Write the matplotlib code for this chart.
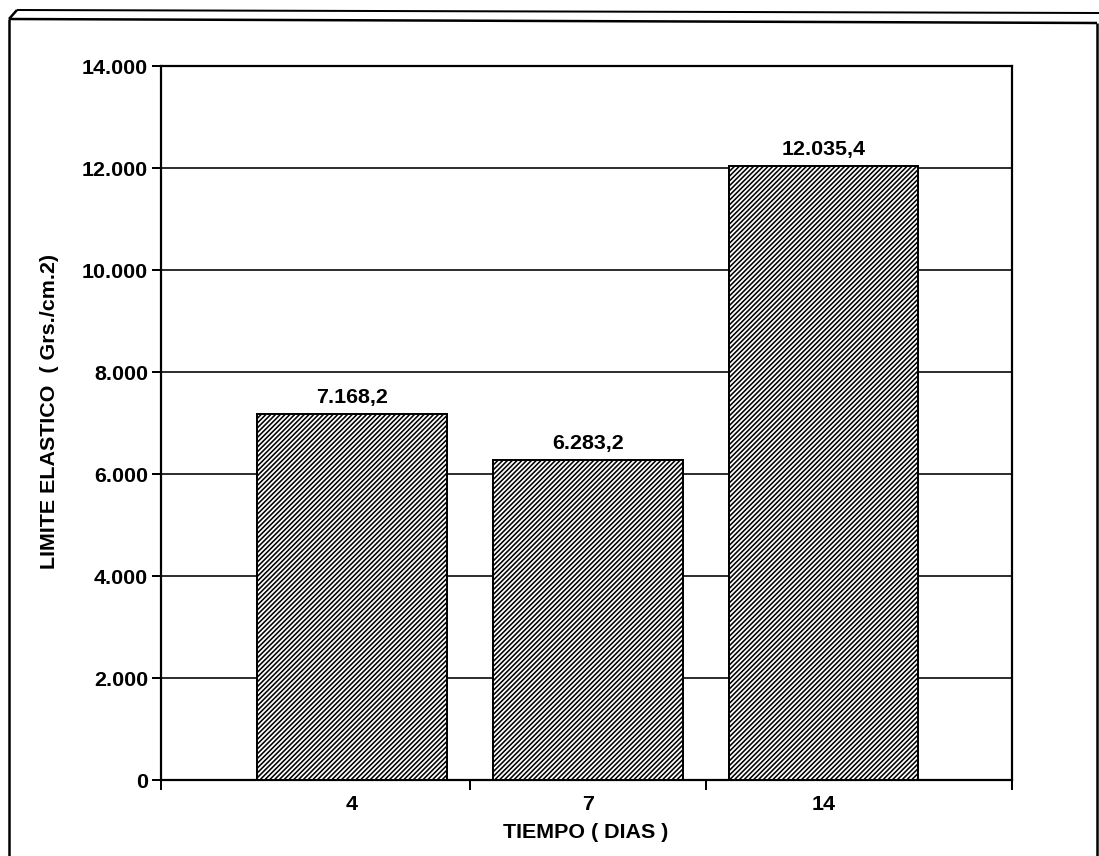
import matplotlib.pyplot as plt
from matplotlib.lines import Line2D
from matplotlib.ticker import FixedLocator, FuncFormatter

# Limite elastico vs tiempo de curado
dias = ["4", "7", "14"]
limite = [7168.2, 6283.2, 12035.4]
y_ticks = [0, 2000, 4000, 6000, 8000, 10000, 12000, 14000]

DPI = 115
W, H = 1099, 856
plt.rcParams['font.family'] = ['Liberation Sans', 'DejaVu Sans']
plt.rcParams['hatch.linewidth'] = 1.0
plt.rcParams['hatch.color'] = '#2a2a2a'


def pt(px):
    # pixel size -> points at the chosen dpi
    return px * 72.0 / DPI


def miles(v, pos=None):
    return f"{int(round(v)):,}".replace(",", ".")


def decimal_es(v):
    s = f"{v:,.1f}"
    return s.replace(",", "X").replace(".", ",").replace("X", ".")


fig = plt.figure(figsize=(W / DPI, H / DPI), dpi=DPI)
ax = fig.add_axes([161 / W, 1 - 780 / H, (1012 - 161) / W, (780 - 66) / H])

x = list(range(len(dias)))
bars = ax.bar(x, limite, width=0.805, color='white', edgecolor='black',
              linewidth=pt(2), hatch='////////', zorder=3)

for xi, v in zip(x, limite):
    ax.annotate(decimal_es(v), (xi, v), xytext=(0, pt(11)),
                textcoords='offset points', ha='center', va='baseline',
                fontsize=pt(21.5), fontweight='bold', zorder=4)

ax.set_xlim(-0.81, 2.80)
ax.set_ylim(0, 14000)

ax.yaxis.set_major_locator(FixedLocator(y_ticks))
ax.yaxis.set_major_formatter(FuncFormatter(miles))
ax.tick_params(axis='y', length=pt(9), width=pt(2), pad=pt(4),
               labelsize=pt(21.5), direction='out')
for lab in ax.get_yticklabels():
    lab.set_fontweight('bold')

# category boundaries carry the tick marks, labels sit at the bar centres
ax.set_xticks([-0.81, 0.5, 1.5, 2.80])
ax.set_xticklabels([])
ax.set_xticks(x, minor=True)
ax.set_xticklabels(dias, minor=True, fontsize=pt(21.5), fontweight='bold')
ax.tick_params(axis='x', which='major', length=pt(10), width=pt(2), direction='out')
ax.tick_params(axis='x', which='minor', length=0, pad=pt(15))

ax.grid(axis='y', color='#1a1a1a', linewidth=pt(1.8), zorder=1)
ax.set_axisbelow(True)
for sp in ax.spines.values():
    sp.set_linewidth(pt(2.2))
    sp.set_color('black')

fig.text(50 / W, 1 - 411 / H, "LIMITE ELASTICO  ( Grs./cm.2)", rotation=90,
         ha='center', va='center', fontsize=pt(21.5), fontweight='bold')
fig.text(586 / W, 1 - 838 / H, "TIEMPO ( DIAS )", ha='center', va='baseline',
         fontsize=pt(21.5), fontweight='bold')

# outer frame of the sheet
def frame_line(xs, ys, lw=2.5):
    fig.add_artist(Line2D([v / W for v in xs], [1 - v / H for v in ys],
                          transform=fig.transFigure, color='black',
                          linewidth=pt(lw), solid_capstyle='butt'))


frame_line([9, 9], [856, 19])
frame_line([9, 17], [19, 10])
frame_line([9, 1097], [19, 23])
frame_line([17, 1099], [10, 13], lw=2)
frame_line([1097, 1097], [23, 856])

fig.savefig("out.png", dpi=DPI)
